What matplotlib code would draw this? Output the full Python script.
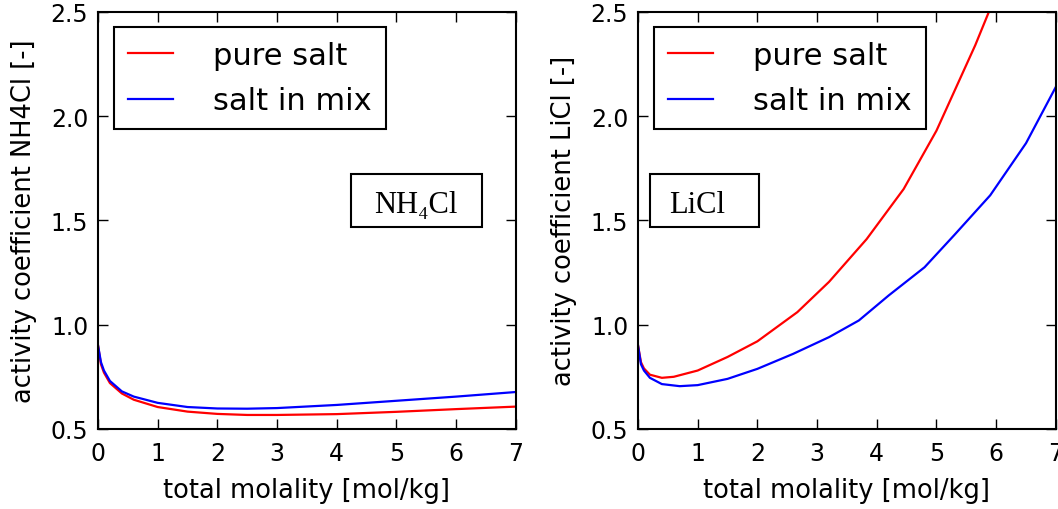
import numpy as np
import matplotlib
matplotlib.use("Agg")
import matplotlib.pyplot as plt
from matplotlib.patches import Rectangle

# total molality [mol/kg]
m_nh4cl = [0.001, 0.05, 0.1, 0.2, 0.4, 0.6, 1.0, 1.5, 2.0, 2.5, 3.0, 4.0, 5.0, 6.0, 7.0]
nh4cl_pure = [0.90, 0.81, 0.77, 0.72, 0.67, 0.64, 0.605, 0.583, 0.572, 0.567, 0.567, 0.571, 0.582, 0.595, 0.607]
nh4cl_mix = [0.90, 0.82, 0.78, 0.73, 0.68, 0.655, 0.625, 0.605, 0.598, 0.597, 0.600, 0.615, 0.635, 0.655, 0.677]

m_licl_pure = [0.001, 0.05, 0.1, 0.2, 0.4, 0.6, 1.0, 1.5, 2.0, 2.67, 3.2, 3.83, 4.45, 5.0, 5.65, 5.95]
licl_pure = [0.90, 0.82, 0.79, 0.76, 0.745, 0.75, 0.78, 0.845, 0.92, 1.06, 1.205, 1.41, 1.65, 1.93, 2.34, 2.55]
m_licl_mix = [0.001, 0.05, 0.1, 0.2, 0.4, 0.7, 1.0, 1.5, 2.0, 2.6, 3.2, 3.7, 4.2, 4.8, 5.3, 5.9, 6.5, 7.0]
licl_mix = [0.90, 0.81, 0.78, 0.745, 0.715, 0.705, 0.71, 0.74, 0.788, 0.86, 0.94, 1.02, 1.14, 1.275, 1.43, 1.62, 1.87, 2.14]

# name, box label, data, box (x, width, text x offset)
panels = [
    ("NH4Cl", "NH\u2084Cl", m_nh4cl, nh4cl_pure, m_nh4cl, nh4cl_mix, 0.605, 0.313, 0.0),
    ("LiCl", "LiCl", m_licl_pure, licl_pure, m_licl_mix, licl_mix, 0.029, 0.261, -0.017),
]

fig = plt.figure(figsize=(10.58, 5.10), dpi=100)
positions = [[0.0926, 0.157, 0.395, 0.818], [0.603, 0.157, 0.395, 0.818]]

for pos, (name, label, xp, yp, xm, ym, box_x, w, dx) in zip(positions, panels):
    ax = fig.add_axes(pos)
    ax.plot(xp, yp, color="red", lw=1.6, label="pure salt")
    ax.plot(xm, ym, color="blue", lw=1.6, label="salt in mix")
    ax.set_xlim(0, 7)
    ax.set_ylim(0.5, 2.5)
    ax.set_xticks(range(8))
    ax.set_yticks([0.5, 1.0, 1.5, 2.0, 2.5])
    ax.tick_params(direction="in", top=True, right=True, length=7, width=1,
                   labelsize=17)
    ax.tick_params(axis="x", pad=8.5)
    ax.tick_params(axis="y", pad=7)
    for s in ax.spines.values():
        s.set_linewidth(1.5)
    ax.set_xlabel("total molality [mol/kg]", fontsize=18.5, labelpad=8.5)
    ax.set_ylabel(f"activity coefficient {name} [-]", fontsize=18.5, labelpad=10)

    leg = ax.legend(loc="upper left", bbox_to_anchor=(0.038, 0.964), borderaxespad=0,
                    fancybox=False, fontsize=22, handlelength=1.5, handletextpad=1.3,
                    borderpad=0.45, labelspacing=0.55, framealpha=1)
    leg.get_frame().set_edgecolor("black")
    leg.get_frame().set_linewidth(1.5)

    h = 0.128
    ax.add_patch(Rectangle((box_x, 0.483), w, h, transform=ax.transAxes,
                           fill=False, edgecolor="black", lw=1.5))
    ax.text(box_x + w / 2 + dx, 0.483 + h / 2 - 0.008, label, transform=ax.transAxes,
            ha="center", va="center", fontsize=22,
            family=["Liberation Serif", "DejaVu Serif"])

fig.savefig("out.png", dpi=100, facecolor="white")
